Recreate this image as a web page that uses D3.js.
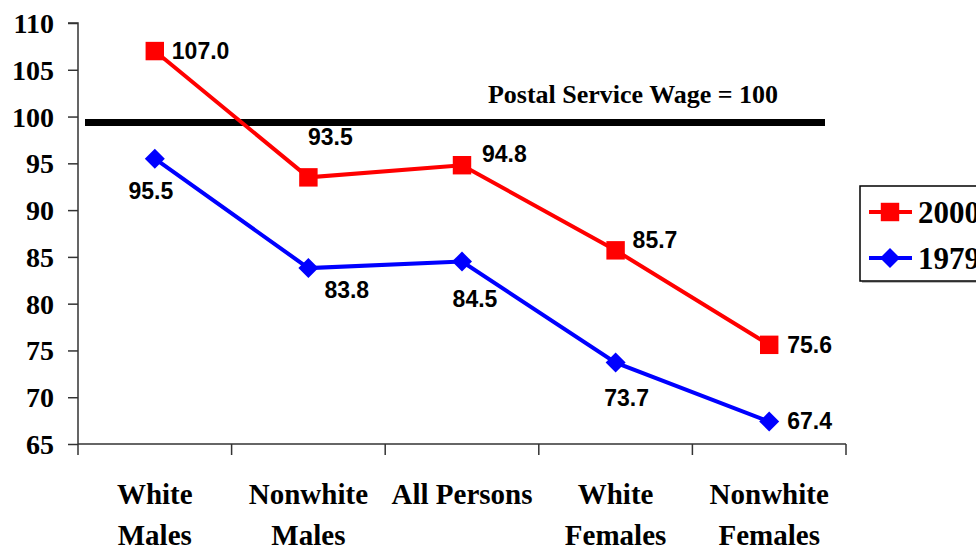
<!DOCTYPE html>
<html>
<head>
<meta charset="utf-8">
<script src="https://cdn.jsdelivr.net/npm/d3@7"></script>
<style>
  body { margin: 0; background: #fff; }
  svg { display: block; }
</style>
</head>
<body>
<div id="main"></div>
<script>
// chart data
var categories = [["White", "Males"], ["Nonwhite", "Males"], ["All Persons"], ["White", "Females"], ["Nonwhite", "Females"]];
var values2000 = [107.0, 93.5, 94.8, 85.7, 75.6];
var values1979 = [95.5, 83.8, 84.5, 73.7, 67.4];
var yTicks = [65, 70, 75, 80, 85, 90, 95, 100, 105, 110];
var refValue = 100;
var refLabel = "Postal Service Wage = 100";

// where each value label sits relative to its marker: [dx, dy, anchor]
var labelPos2000 = [[17, 8, "start"], [22, -32, "middle"], [20, -3, "start"], [17, -2, "start"], [18, 8, "start"]];
var labelPos1979 = [[-4, 40, "middle"], [16, 30, "start"], [13, 45, "middle"], [11, 43, "middle"], [18, 7, "start"]];

var W = 976, H = 550;
var serif = "'Times New Roman', 'Liberation Serif', serif";
var sans = "Arial, 'Liberation Sans', sans-serif";

var svg = d3.select("#main").append("svg")
    .attr("width", W)
    .attr("height", H);

var x = d3.scaleBand()
    .domain(d3.range(categories.length))
    .range([78, 846]);

var y = d3.scaleLinear()
    .domain([65, 110])
    .range([444, 23]);

// y axis
var yAxis = svg.append("g")
    .attr("transform", "translate(78,0)")
    .call(d3.axisLeft(y).tickValues(yTicks).tickSize(10).tickPadding(14).tickFormat(d3.format("d")));
yAxis.select(".domain").attr("stroke", "#333").attr("stroke-width", 1.5).attr("d", "M0," + y(65) + "V" + y(110) + "H-10M0," + y(65));
yAxis.selectAll(".tick line").attr("stroke", "#333").attr("stroke-width", 1.5);
yAxis.selectAll(".tick text")
    .attr("font-family", serif)
    .attr("font-weight", "bold")
    .attr("font-size", 28)
    .attr("fill", "#000")
    .attr("dy", "0.34em");

// x axis: ticks sit on band edges
var xAxis = svg.append("g").attr("transform", "translate(0," + y(65) + ")");
xAxis.append("line")
    .attr("x1", x.range()[0]).attr("x2", x.range()[1])
    .attr("stroke", "#333").attr("stroke-width", 1.5);
var edges = d3.range(categories.length + 1).map(function(i) { return x.range()[0] + i * x.step(); });
xAxis.selectAll(".xt").data(edges).enter().append("line")
    .attr("x1", function(d) { return d; }).attr("x2", function(d) { return d; })
    .attr("y1", 0).attr("y2", 11)
    .attr("stroke", "#333").attr("stroke-width", 1.5);

var catText = svg.selectAll(".cat").data(categories).enter().append("text")
    .attr("x", function(d, i) { return x(i) + x.bandwidth() / 2; })
    .attr("y", 504)
    .attr("text-anchor", "middle")
    .attr("font-family", serif)
    .attr("font-weight", "bold")
    .attr("font-size", 29)
    .attr("fill", "#000");
catText.selectAll("tspan").data(function(d) { return d; }).enter().append("tspan")
    .attr("x", function() { return d3.select(this.parentNode).attr("x"); })
    .attr("dy", function(d, i) { return i === 0 ? 0 : 41; })
    .text(function(d) { return d; });

// reference line
svg.append("line")
    .attr("x1", x.range()[0] + 7).attr("x2", x.range()[1] - 21)
    .attr("y1", y(refValue) + 6).attr("y2", y(refValue) + 6)
    .attr("stroke", "#000").attr("stroke-width", 7);
svg.append("text")
    .attr("x", 633).attr("y", 103)
    .attr("text-anchor", "middle")
    .attr("font-family", serif)
    .attr("font-weight", "bold")
    .attr("font-size", 26)
    .attr("fill", "#000")
    .text(refLabel);

var cx = function(d, i) { return x(i) + x.bandwidth() / 2; };
var line = d3.line().x(cx).y(function(d) { return y(d); });

function drawSeries(vals, color, symbol, size, rotate, labelPos) {
  var g = svg.append("g");
  g.append("path")
      .attr("d", line(vals))
      .attr("fill", "none")
      .attr("stroke", color)
      .attr("stroke-width", 4);
  g.selectAll(".m").data(vals).enter().append("path")
      .attr("d", d3.symbol().type(symbol).size(size))
      .attr("transform", function(d, i) { return "translate(" + cx(d, i) + "," + y(d) + ") rotate(" + rotate + ")"; })
      .attr("fill", color);
  g.selectAll(".lbl").data(vals).enter().append("text")
      .attr("x", function(d, i) { return cx(d, i) + labelPos[i][0]; })
      .attr("y", function(d, i) { return y(d) + labelPos[i][1]; })
      .attr("text-anchor", function(d, i) { return labelPos[i][2]; })
      .attr("font-family", sans)
      .attr("font-weight", "bold")
      .attr("font-size", 23)
      .attr("fill", "#000")
      .text(function(d) { return d.toFixed(1); });
}

drawSeries(values1979, "#0000FF", d3.symbolSquare, 200, 45, labelPos1979);
drawSeries(values2000, "#FF0000", d3.symbolSquare, 340, 0, labelPos2000);

// legend
var legend = svg.append("g");
legend.append("rect")
    .attr("x", 862).attr("y", 188).attr("width", 140).attr("height", 95)
    .attr("fill", "#bbb");
legend.append("rect")
    .attr("x", 860).attr("y", 186).attr("width", 140).attr("height", 95)
    .attr("fill", "#fff").attr("stroke", "#000").attr("stroke-width", 1.5);
var legendItems = [
  { name: "2000", color: "#FF0000", size: 340, rotate: 0 },
  { name: "1979", color: "#0000FF", size: 200, rotate: 45 }
];
var li = legend.selectAll(".li").data(legendItems).enter().append("g")
    .attr("transform", function(d, i) { return "translate(0," + (212 + i * 46) + ")"; });
li.append("line")
    .attr("x1", 869).attr("x2", 912)
    .attr("stroke", function(d) { return d.color; })
    .attr("stroke-width", 4);
li.append("path")
    .attr("d", function(d) { return d3.symbol().type(d3.symbolSquare).size(d.size)(); })
    .attr("transform", function(d) { return "translate(890,0) rotate(" + d.rotate + ")"; })
    .attr("fill", function(d) { return d.color; });
li.append("text")
    .attr("x", 918).attr("y", 0).attr("dy", "0.34em")
    .attr("font-family", serif)
    .attr("font-weight", "bold")
    .attr("font-size", 31)
    .attr("fill", "#000")
    .text(function(d) { return d.name; });
</script>
</body>
</html>
